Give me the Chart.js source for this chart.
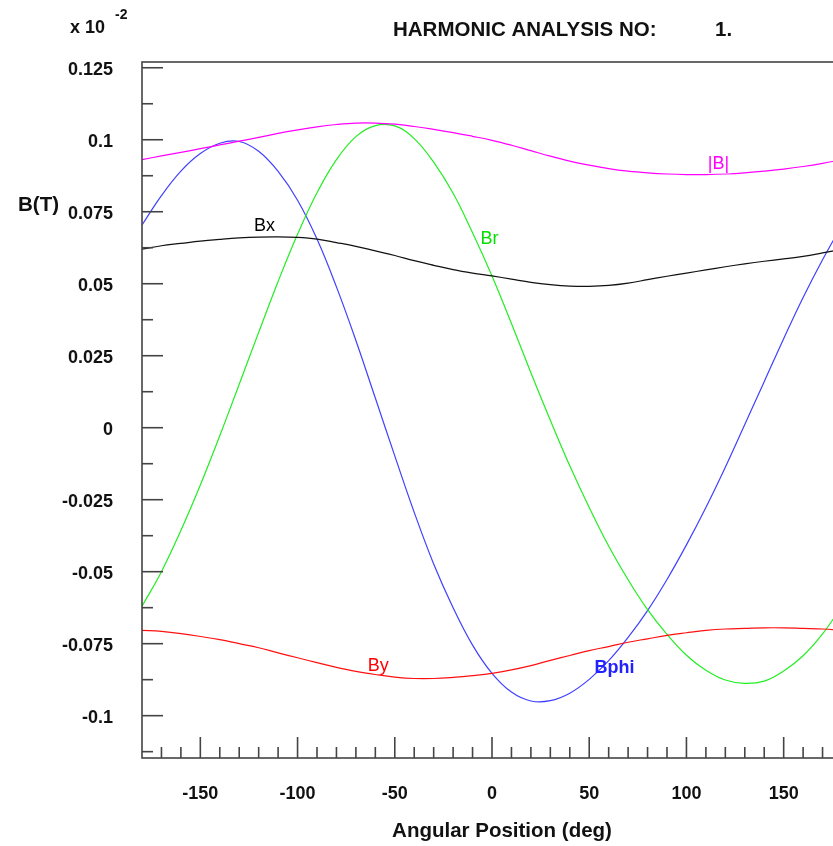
<!DOCTYPE html>
<html>
<head>
<meta charset="utf-8">
<script src="https://cdn.jsdelivr.net/npm/chart.js@4/dist/chart.umd.min.js"></script>
<style>
  html, body { margin: 0; padding: 0; overflow: hidden; background: #fff; }
  canvas { display: block; }
</style>
</head>
<body>
<canvas id="harmonic" width="850" height="846"></canvas>
<script>
// angular position, deg
const angles = [-180,-170,-160,-150,-140,-130,-120,-110,-100,-90,-80,-70,-60,-50,-40,-30,-20,-10,
                0,10,20,30,40,50,60,70,80,90,100,110,120,130,140,150,160,170,180];

// field components, x 10^-2 T
const bAbs = [0.0931,0.0944,0.0956,0.0969,0.0982,0.0995,0.1008,0.1022,0.1034,0.1045,0.1053,0.1058,0.1058,0.1054,0.1046,0.1036,0.1025,0.1012,
              0.0998,0.0981,0.0962,0.0943,0.0926,0.0912,0.0900,0.0891,0.0885,0.0881,0.0879,0.0879,0.0881,0.0885,0.0891,0.0898,0.0907,0.0918,0.0931];
const bx   = [0.0620,0.0632,0.0640,0.0648,0.0654,0.0659,0.0662,0.0663,0.0661,0.0655,0.0643,0.0630,0.0614,0.0598,0.0580,0.0564,0.0549,0.0537,
              0.0527,0.0516,0.0505,0.0497,0.0492,0.0491,0.0494,0.0502,0.0514,0.0526,0.0537,0.0548,0.0559,0.0569,0.0578,0.0586,0.0595,0.0607,0.0620];
const by   = [-0.0704,-0.0707,-0.0715,-0.0725,-0.0736,-0.0750,-0.0764,-0.0782,-0.0799,-0.0816,-0.0832,-0.0846,-0.0857,-0.0866,-0.0871,-0.0871,-0.0867,-0.0861,
              -0.0853,-0.0841,-0.0826,-0.0808,-0.0791,-0.0774,-0.0760,-0.0745,-0.0733,-0.0721,-0.0712,-0.0704,-0.0699,-0.0697,-0.0695,-0.0695,-0.0697,-0.0699,-0.0704];
const br   = [-0.0620,-0.0500,-0.0357,-0.0199,-0.0028,0.0151,0.0331,0.0508,0.0672,0.0816,0.0931,0.1011,0.1049,0.1048,0.1004,0.0922,0.0814,0.0677,
              0.0527,0.0362,0.0191,0.0026,-0.0132,-0.0277,-0.0411,-0.0528,-0.0632,-0.0718,-0.0790,-0.0842,-0.0876,-0.0888,-0.0880,-0.0845,-0.0792,-0.0716,-0.0620];
const bphi = [0.0704,0.0806,0.0891,0.0952,0.0988,0.0994,0.0960,0.0890,0.0790,0.0655,0.0489,0.0303,0.0103,-0.0098,-0.0294,-0.0473,-0.0625,-0.0755,
              -0.0853,-0.0918,-0.0949,-0.0948,-0.0922,-0.0874,-0.0809,-0.0728,-0.0635,-0.0527,-0.0407,-0.0277,-0.0137,0.0011,0.0160,0.0309,0.0452,0.0583,0.0704];

const xTicks = [-150,-100,-50,0,50,100,150];
const yTicks = [0.125,0.1,0.075,0.05,0.025,0,-0.025,-0.05,-0.075,-0.1];

const seriesNames = ['|B|','Bx','Br','Bphi','By'];

const FONT = "'Liberation Sans', Arial, sans-serif";

// where the curve names sit, in data units
const nameSpots = {
    '|B|':  {x: 116.5, y: 0.0915, color: '#ff00ff', box: true},
    'Bx':   {x: -117,  y: 0.0700, color: '#000000'},
    'Br':   {x: -1.3,  y: 0.0655, color: '#00e000'},
    'Bphi': {x: 63,    y: -0.0836, color: '#2222ff', bold: true},
    'By':   {x: -58.5, y: -0.0826, color: '#ff0000'}
};

const toPoints = arr => angles.map((a, i) => ({x: a, y: arr[i]}));

const line = (ctx, x1, y1, x2, y2) => {
    ctx.beginPath();
    ctx.moveTo(x1, y1);
    ctx.lineTo(x2, y2);
    ctx.stroke();
};

const framePlugin = {
    id: 'frame',
    afterDraw(chart) {
        const {ctx, chartArea: a} = chart;
        const xs = chart.scales.x, ys = chart.scales.y;
        ctx.save();
        ctx.strokeStyle = '#444';
        ctx.lineWidth = 1.6;
        ctx.strokeRect(a.left, a.top, a.right - a.left, a.bottom - a.top);

        // inward tick marks
        for (let v = -170; v <= 170; v += 10) {
            const px = xs.getPixelForValue(v);
            line(ctx, px, a.bottom, px, a.bottom - (v % 50 === 0 ? 21 : 11));
        }
        for (let i = -9; i <= 10; i++) {
            const py = ys.getPixelForValue(i * 0.0125);
            line(ctx, a.left, py, a.left + (i % 2 === 0 ? 21 : 11), py);
        }

        // texts
        ctx.fillStyle = '#111';
        ctx.textBaseline = 'middle';
        ctx.textAlign = 'left';
        ctx.font = `bold 20.5px ${FONT}`;
        ctx.fillText('HARMONIC ANALYSIS NO:', 393, 30);
        ctx.fillText('1.', 715, 30);
        ctx.fillText('B(T)', 18, 205);
        ctx.font = `bold 18px ${FONT}`;
        ctx.fillText('x 10', 70, 28);
        ctx.font = `bold 14px ${FONT}`;
        ctx.fillText('-2', 115, 15);
        ctx.textAlign = 'center';
        ctx.font = `bold 20.5px ${FONT}`;
        ctx.fillText('Angular Position (deg)', 502, 831);

        // curve names
        seriesNames.forEach(name => {
            const s = nameSpots[name];
            const px = xs.getPixelForValue(s.x);
            const py = ys.getPixelForValue(s.y);
            ctx.font = `${s.bold ? 'bold ' : ''}18px ${FONT}`;
            if (s.box) {
                const w = ctx.measureText(name).width;
                ctx.fillStyle = '#fff';
                ctx.fillRect(px - w / 2 - 1, py - 9, w + 2, 18);
            }
            ctx.fillStyle = s.color;
            ctx.fillText(name, px, py);
        });
        ctx.restore();
    }
};

const tickFont = {family: FONT, size: 18, weight: 'bold'};

new Chart(document.getElementById('harmonic').getContext('2d'), {
    type: 'line',
    data: {
        datasets: [
            {label: '|B|', data: toPoints(bAbs), borderColor: '#ff00ff'},
            {label: 'Bx', data: toPoints(bx), borderColor: '#111111'},
            {label: 'By', data: toPoints(by), borderColor: '#ff1010'},
            {label: 'Br', data: toPoints(br), borderColor: '#22ee22'},
            {label: 'Bphi', data: toPoints(bphi), borderColor: '#4040ff'}
        ].map(d => Object.assign(d, {borderWidth: 1.2, pointRadius: 0, tension: 0.4, fill: false}))
    },
    options: {
        responsive: false,
        animation: false,
        devicePixelRatio: 1,
        layout: {padding: {top: 62, right: 8, left: 0, bottom: 0}},
        plugins: {legend: {display: false}, tooltip: {enabled: false}},
        scales: {
            x: {
                type: 'linear',
                min: -180,
                max: 180,
                afterBuildTicks: s => { s.ticks = xTicks.map(v => ({value: v})); },
                afterFit: s => { s.height = 88; },
                grid: {display: false, drawTicks: false},
                border: {display: false},
                ticks: {padding: 25, maxRotation: 0, autoSkip: false, color: '#111', font: tickFont}
            },
            y: {
                min: -0.1147,
                max: 0.127,
                afterBuildTicks: s => { s.ticks = yTicks.map(v => ({value: v})); },
                afterFit: s => { s.width = 142; },
                grid: {display: false, drawTicks: false},
                border: {display: false},
                ticks: {
                    padding: 29, labelOffset: 2, autoSkip: false, color: '#111', font: tickFont,
                    callback: v => String(+v.toFixed(4))
                }
            }
        }
    },
    plugins: [framePlugin]
});
</script>
</body>
</html>
